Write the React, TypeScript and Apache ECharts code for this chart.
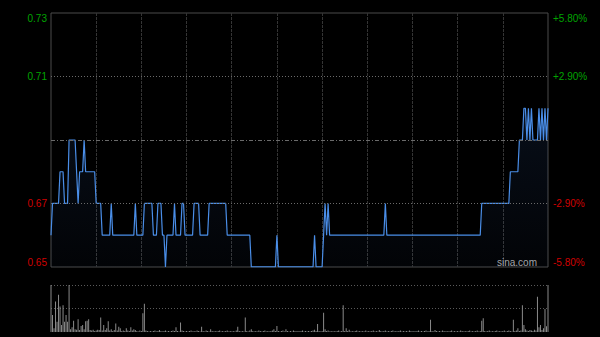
import React, { useEffect, useRef } from "react";
import * as echarts from "echarts";

// Previous close and the symmetric percentage range of the price axis
const PREV_CLOSE = 0.69;
const RANGE_PCT = 5.8;
const TOTAL_MINUTES = 330; // 09:30-12:00 + 13:00-16:00

// Price per minute (index 0 = 09:30), one row per 30 minutes
const prices: number[] = [
  0.66, 0.67, 0.67, 0.67, 0.67, 0.67, 0.68, 0.68, 0.68, 0.67, 0.67, 0.67, 0.69, 0.69, 0.69, 0.69, 0.69, 0.68, 0.67, 0.68, 0.68, 0.68, 0.69, 0.68, 0.68, 0.68, 0.68, 0.68, 0.68, 0.68,
  0.67, 0.67, 0.67, 0.67, 0.66, 0.66, 0.66, 0.66, 0.66, 0.66, 0.67, 0.66, 0.66, 0.66, 0.66, 0.66, 0.66, 0.66, 0.66, 0.66, 0.66, 0.66, 0.66, 0.66, 0.66, 0.66, 0.67, 0.66, 0.66, 0.66,
  0.66, 0.66, 0.67, 0.67, 0.67, 0.67, 0.67, 0.67, 0.66, 0.66, 0.66, 0.67, 0.67, 0.67, 0.66, 0.66, 0.65, 0.66, 0.66, 0.66, 0.66, 0.66, 0.67, 0.66, 0.66, 0.66, 0.66, 0.67, 0.67, 0.66,
  0.66, 0.66, 0.66, 0.66, 0.66, 0.67, 0.67, 0.67, 0.67, 0.66, 0.66, 0.66, 0.66, 0.66, 0.66, 0.67, 0.67, 0.67, 0.67, 0.67, 0.67, 0.67, 0.67, 0.67, 0.67, 0.67, 0.67, 0.66, 0.66, 0.66,
  0.66, 0.66, 0.66, 0.66, 0.66, 0.66, 0.66, 0.66, 0.66, 0.66, 0.66, 0.66, 0.66, 0.65, 0.65, 0.65, 0.65, 0.65, 0.65, 0.65, 0.65, 0.65, 0.65, 0.65, 0.65, 0.65, 0.65, 0.65, 0.65, 0.65,
  0.66, 0.65, 0.65, 0.65, 0.65, 0.65, 0.65, 0.65, 0.65, 0.65, 0.65, 0.65, 0.65, 0.65, 0.65, 0.65, 0.65, 0.65, 0.65, 0.65, 0.65, 0.65, 0.65, 0.65, 0.65, 0.66, 0.65, 0.65, 0.65, 0.65,
  0.65, 0.66, 0.67, 0.66, 0.67, 0.66, 0.66, 0.66, 0.66, 0.66, 0.66, 0.66, 0.66, 0.66, 0.66, 0.66, 0.66, 0.66, 0.66, 0.66, 0.66, 0.66, 0.66, 0.66, 0.66, 0.66, 0.66, 0.66, 0.66, 0.66,
  0.66, 0.66, 0.66, 0.66, 0.66, 0.66, 0.66, 0.66, 0.66, 0.66, 0.66, 0.66, 0.67, 0.66, 0.66, 0.66, 0.66, 0.66, 0.66, 0.66, 0.66, 0.66, 0.66, 0.66, 0.66, 0.66, 0.66, 0.66, 0.66, 0.66,
  0.66, 0.66, 0.66, 0.66, 0.66, 0.66, 0.66, 0.66, 0.66, 0.66, 0.66, 0.66, 0.66, 0.66, 0.66, 0.66, 0.66, 0.66, 0.66, 0.66, 0.66, 0.66, 0.66, 0.66, 0.66, 0.66, 0.66, 0.66, 0.66, 0.66,
  0.66, 0.66, 0.66, 0.66, 0.66, 0.66, 0.66, 0.66, 0.66, 0.66, 0.66, 0.66, 0.66, 0.66, 0.66, 0.66, 0.67, 0.67, 0.67, 0.67, 0.67, 0.67, 0.67, 0.67, 0.67, 0.67, 0.67, 0.67, 0.67, 0.67,
  0.67, 0.67, 0.67, 0.67, 0.67, 0.68, 0.68, 0.68, 0.68, 0.68, 0.68, 0.69, 0.69, 0.69, 0.70, 0.70, 0.69, 0.70, 0.69, 0.70, 0.69, 0.69, 0.69, 0.69, 0.70, 0.69, 0.70, 0.69, 0.70, 0.69,
  0.70,
];

// Volume per minute (relative units), one row per 30 minutes
const volumes: number[] = [
  100, 36, 8, 65, 22, 79, 54, 15, 57, 22, 36, 22, 100, 6, 10, 24, 6, 5, 27, 4, 13, 15, 6, 23, 24, 27, 4, 3, 5, 2,
  3, 5, 4, 31, 3, 15, 4, 8, 23, 3, 6, 2, 4, 18, 3, 11, 8, 2, 3, 2, 8, 3, 2, 10, 3, 6, 4, 2, 1, 3,
  2, 40, 60, 3, 2, 1, 2, 1, 2, 3, 1, 2, 4, 2, 1, 2, 3, 1, 2, 1, 2, 3, 2, 10, 2, 1, 20, 3, 2, 1,
  2, 1, 2, 3, 1, 2, 1, 3, 2, 1, 11, 2, 1, 3, 2, 1, 6, 2, 1, 2, 1, 2, 3, 1, 2, 1, 2, 3, 1, 2,
  1, 2, 1, 3, 11, 2, 1, 2, 1, 31, 2, 1, 3, 6, 2, 1, 2, 1, 3, 2, 1, 2, 3, 1, 2, 1, 2, 3, 6, 2,
  13, 2, 1, 2, 3, 1, 6, 2, 1, 2, 1, 3, 2, 1, 2, 1, 2, 3, 1, 2, 1, 2, 1, 2, 3, 5, 2, 17, 2, 1,
  2, 41, 6, 2, 3, 1, 2, 1, 2, 1, 2, 3, 1, 2, 57, 2, 8, 2, 5, 1, 2, 1, 2, 3, 1, 2, 1, 2, 1, 3,
  1, 2, 1, 2, 3, 1, 2, 1, 4, 2, 1, 2, 3, 1, 2, 1, 2, 3, 1, 2, 1, 2, 3, 1, 2, 1, 2, 1, 3, 2,
  1, 2, 1, 2, 3, 1, 2, 1, 2, 3, 1, 2, 26, 2, 1, 4, 2, 1, 2, 1, 3, 2, 1, 2, 1, 2, 3, 1, 2, 1,
  2, 1, 3, 2, 1, 2, 1, 2, 3, 1, 2, 1, 2, 3, 1, 2, 24, 29, 2, 1, 2, 3, 1, 2, 1, 2, 3, 1, 2, 1,
  2, 3, 1, 2, 3, 2, 1, 26, 2, 3, 8, 2, 3, 57, 15, 6, 3, 2, 4, 3, 2, 5, 3, 75, 10, 15, 4, 8, 49, 12,
  100,
];

// Axis tick labels (bottom to top)
const leftTickLabels = ["0.65", "0.67", "", "0.71", "0.73"];
const rightTickLabels = ["-5.80%", "-2.90%", "", "+2.90%", "+5.80%"];

const UP = "#00a400";
const DOWN = "#d00000";
const FONT = "'Liberation Sans', Arial, sans-serif";

export default function App() {
  const ref = useRef<HTMLDivElement>(null);

  useEffect(() => {
    document.body.style.margin = "0";
    document.body.style.background = "#000";
    if (!ref.current) return;
    const chart = echarts.init(ref.current, null, { renderer: "svg" });

    const step = (PREV_CLOSE * RANGE_PCT) / 2 / 100;
    const yMin = PREV_CLOSE - 2 * step;
    const yMax = PREV_CLOSE + 2 * step;
    const labelColor = (_v: any, i: number) => (i >= 3 ? UP : DOWN);
    const hLine = (val: number, type: any) => ({
      yAxis: val,
      lineStyle: { color: "#6a6a6a", width: 1, type },
    });

    chart.setOption({
      animation: false,
      backgroundColor: "#000",
      grid: [
        { left: 51, right: 52, top: 13, height: 254, show: true, borderColor: "#4a4a4a", borderWidth: 1 },
        { left: 51, right: 52, top: 285, height: 47 },
      ],
      xAxis: [
        {
          type: "value", gridIndex: 0, min: 0, max: TOTAL_MINUTES, interval: 30,
          axisLine: { show: false }, axisTick: { show: false }, axisLabel: { show: false },
          splitLine: { show: true, showMinLine: false, showMaxLine: false, lineStyle: { color: "#343434", type: [3, 1] } },
        },
        {
          type: "value", gridIndex: 1, min: 0, max: TOTAL_MINUTES, interval: 30,
          axisLine: { show: false }, axisTick: { show: false }, axisLabel: { show: false },
          splitLine: { show: false },
        },
      ],
      yAxis: [
        {
          type: "value", gridIndex: 0, min: yMin, max: yMax, interval: step, position: "left",
          axisLine: { show: false }, axisTick: { show: false }, splitLine: { show: false },
          axisLabel: {
            fontSize: 10, fontFamily: FONT, margin: 4,
            color: labelColor,
            formatter: (_v: number, i: number) => leftTickLabels[i] ?? "",
            verticalAlignMinLabel: "bottom", verticalAlignMaxLabel: "top",
          },
        },
        {
          type: "value", gridIndex: 0, min: yMin, max: yMax, interval: step, position: "right",
          axisLine: { show: false }, axisTick: { show: false }, splitLine: { show: false },
          axisLabel: {
            fontSize: 10, fontFamily: FONT, margin: 5,
            color: labelColor,
            formatter: (_v: number, i: number) => rightTickLabels[i] ?? "",
            verticalAlignMinLabel: "bottom", verticalAlignMaxLabel: "top",
          },
        },
        {
          type: "value", gridIndex: 2 - 1, min: 0, max: Math.max(...volumes), interval: Math.max(...volumes) / 2,
          axisLine: { show: false }, axisTick: { show: false }, axisLabel: { show: false },
          splitLine: { show: true, showMinLine: false, lineStyle: { color: "#5a5a5a", type: [1, 2] } },
        },
      ],
      series: [
        {
          type: "line",
          xAxisIndex: 0, yAxisIndex: 0,
          data: prices.map((p, i) => [i, p]),
          showSymbol: false,
          lineStyle: { color: "#4a8ee8", width: 1.2 },
          areaStyle: {
            origin: "start",
            color: new echarts.graphic.LinearGradient(0, 0, 0, 1, [
              { offset: 0, color: "rgba(50,90,160,0.22)" },
              { offset: 1, color: "rgba(50,90,160,0.06)" },
            ]),
          },
          markLine: {
            silent: true, symbol: "none", label: { show: false },
            data: [
              hLine(PREV_CLOSE + step, [1, 2]),
              hLine(PREV_CLOSE - step, [1, 2]),
              hLine(PREV_CLOSE, [4, 2, 1, 2]),
            ],
          },
          z: 3,
        },
        {
          type: "bar",
          xAxisIndex: 1, yAxisIndex: 2,
          data: volumes.map((v, i) => [i, v]),
          barWidth: 1,
          clip: false,
          itemStyle: { color: "#8a8a8a" },
        },
      ],
      graphic: [
        {
          type: "text", x: 537, y: 262, z: 1,
          style: { text: "sina.com", fill: "#a8a8a8", fontSize: 10, fontFamily: FONT, align: "right", verticalAlign: "middle" },
        },
      ],
    });

    return () => chart.dispose();
  }, []);

  return <div ref={ref} style={{ width: 600, height: 337, background: "#000" }} />;
}
